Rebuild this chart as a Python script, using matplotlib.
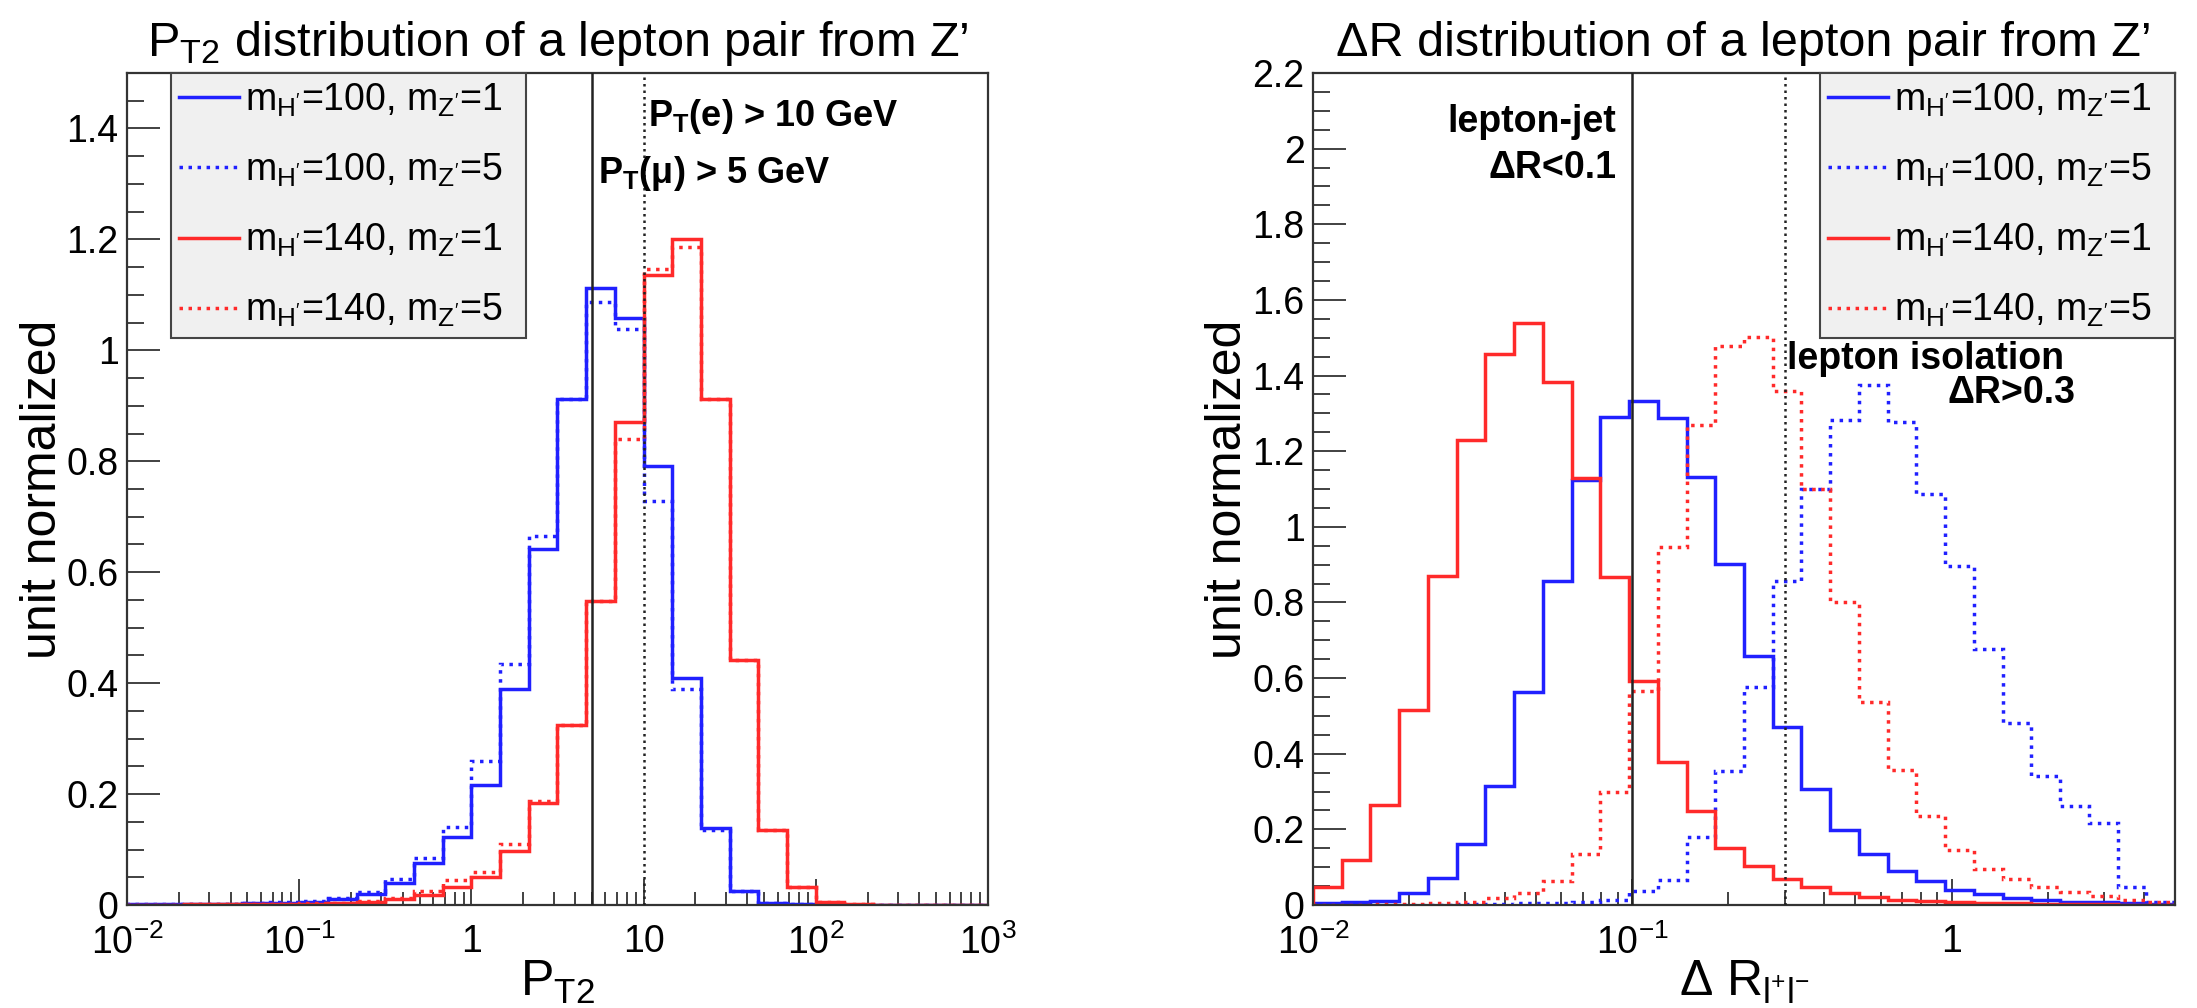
import numpy as np
import matplotlib
matplotlib.use('Agg')
import matplotlib.pyplot as plt
from matplotlib.ticker import MultipleLocator, LogLocator, FuncFormatter, NullFormatter

plt.rcParams['font.family'] = ['Liberation Sans', 'DejaVu Sans']
plt.rcParams['mathtext.fontset'] = 'custom'
plt.rcParams['mathtext.rm'] = 'Liberation Sans'
plt.rcParams['mathtext.it'] = 'Liberation Sans:italic'
plt.rcParams['mathtext.bf'] = 'Liberation Sans:bold'

# binning: 30 log bins in each panel
pt_edges = np.logspace(-2, 3, 31)
dr_edges = np.logspace(-2, 0.7, 31)

# P_T2 histograms (unit normalized), one value per bin
pt_h100_z1 = [0.001, 0.001, 0.002, 0.002, 0.003, 0.004, 0.006, 0.010, 0.020, 0.040,
              0.075, 0.123, 0.217, 0.389, 0.642, 0.912, 1.112, 1.058, 0.792, 0.410,
              0.138, 0.026, 0.004, 0.001, 0.0, 0.0, 0.0, 0.0, 0.0, 0.0]
pt_h100_z5 = [0.001, 0.001, 0.002, 0.002, 0.003, 0.005, 0.007, 0.012, 0.024, 0.046,
              0.085, 0.140, 0.260, 0.434, 0.665, 0.912, 1.088, 1.039, 0.728, 0.389,
              0.135, 0.025, 0.004, 0.001, 0.0, 0.0, 0.0, 0.0, 0.0, 0.0]
pt_h140_z1 = [0.0, 0.0, 0.001, 0.001, 0.001, 0.001, 0.002, 0.003, 0.005, 0.010,
              0.018, 0.033, 0.050, 0.097, 0.183, 0.325, 0.548, 0.870, 1.135, 1.200,
              0.912, 0.441, 0.136, 0.033, 0.005, 0.001, 0.0, 0.0, 0.0, 0.0]
pt_h140_z5 = [0.0, 0.0, 0.001, 0.001, 0.001, 0.002, 0.003, 0.004, 0.007, 0.013,
              0.025, 0.045, 0.059, 0.110, 0.187, 0.325, 0.548, 0.841, 1.146, 1.187,
              0.912, 0.441, 0.136, 0.033, 0.005, 0.001, 0.0, 0.0, 0.0, 0.0]

# Delta R histograms
dr_h100_z1 = [0.005, 0.009, 0.011, 0.033, 0.071, 0.160, 0.315, 0.562, 0.856, 1.124,
              1.290, 1.332, 1.289, 1.132, 0.901, 0.659, 0.470, 0.308, 0.198, 0.136,
              0.089, 0.063, 0.040, 0.028, 0.019, 0.012, 0.009, 0.007, 0.005, 0.003]
dr_h100_z5 = [0.0, 0.0, 0.0, 0.001, 0.001, 0.002, 0.003, 0.004, 0.006, 0.009,
              0.014, 0.038, 0.066, 0.179, 0.353, 0.576, 0.856, 1.099, 1.282, 1.376,
              1.277, 1.087, 0.896, 0.678, 0.480, 0.341, 0.263, 0.216, 0.047, 0.009]
dr_h140_z1 = [0.047, 0.118, 0.265, 0.515, 0.870, 1.230, 1.458, 1.539, 1.383, 1.129,
              0.868, 0.593, 0.378, 0.249, 0.151, 0.102, 0.068, 0.047, 0.033, 0.021,
              0.014, 0.010, 0.008, 0.006, 0.004, 0.003, 0.002, 0.002, 0.001, 0.001]
dr_h140_z5 = [0.001, 0.001, 0.002, 0.003, 0.005, 0.009, 0.019, 0.033, 0.064, 0.136,
              0.299, 0.565, 0.946, 1.268, 1.477, 1.502, 1.360, 1.101, 0.802, 0.538,
              0.356, 0.235, 0.146, 0.094, 0.068, 0.047, 0.035, 0.024, 0.014, 0.009]

labels = [r'm$_{\rm H^{\prime}}$=100, m$_{\rm Z^{\prime}}$=1',
          r'm$_{\rm H^{\prime}}$=100, m$_{\rm Z^{\prime}}$=5',
          r'm$_{\rm H^{\prime}}$=140, m$_{\rm Z^{\prime}}$=1',
          r'm$_{\rm H^{\prime}}$=140, m$_{\rm Z^{\prime}}$=5']
colors = ['#2020ff', '#2020ff', '#ff2a2a', '#ff2a2a']
styles = ['-', (0, (1.0, 1.6)), '-', (0, (1.0, 1.6))]


def log_fmt(v, pos):
    e = int(round(np.log10(v)))
    if e == 0:
        return '1'
    if e == 1:
        return '10'
    return r'$10^{%d}$' % e


def style_axes(ax, ymax):
    ax.set_xscale('log')
    ax.set_ylim(0, ymax)
    ax.yaxis.set_major_locator(MultipleLocator(0.2))
    ax.yaxis.set_minor_locator(MultipleLocator(0.05))
    ax.yaxis.set_major_formatter(FuncFormatter(lambda v, p: '%g' % round(v, 2)))
    ax.xaxis.set_major_locator(LogLocator(base=10))
    ax.xaxis.set_minor_locator(LogLocator(base=10, subs=range(2, 10)))
    ax.xaxis.set_major_formatter(FuncFormatter(log_fmt))
    ax.xaxis.set_minor_formatter(NullFormatter())
    ax.tick_params(which='both', direction='in', top=False, right=False,
                   labelsize=27, color='#333333', width=1.3)
    ax.tick_params(axis='y', which='major', length=24, pad=6)
    ax.tick_params(axis='y', which='minor', length=12)
    ax.tick_params(axis='x', which='major', length=19, pad=14)
    ax.tick_params(axis='x', which='minor', length=9.5)
    for s in ax.spines.values():
        s.set_linewidth(1.6)
        s.set_color('#333333')
    ax.text(-0.098, 0.5, 'unit normalized', rotation=90, ha='center', va='center',
            fontsize=36, transform=ax.transAxes)


def add_legend(ax, anchor_x, loc):
    leg = ax.legend(loc=loc, bbox_to_anchor=(anchor_x, 0.0, 0.412, 1.0), mode='expand',
                    fontsize=27, frameon=True, fancybox=False, framealpha=1,
                    facecolor='#f0f0f0', edgecolor='#444444', borderaxespad=0,
                    handlelength=1.6, labelspacing=0.88, borderpad=0.22,
                    handletextpad=0.15)
    leg.get_frame().set_linewidth(1.5)
    leg.set_zorder(5)
    return leg


fig = plt.figure(figsize=(21.97, 10.08), dpi=100)
ax1 = fig.add_axes([0.0578, 0.1022, 0.3919, 0.8254])
ax2 = fig.add_axes([0.5976, 0.1022, 0.3924, 0.8254])

# left panel: P_T2
for vals, c, ls, lab in zip([pt_h100_z1, pt_h100_z5, pt_h140_z1, pt_h140_z5], colors, styles, labels):
    ax1.stairs(vals, pt_edges, color=c, linestyle=ls, linewidth=2.5, label=lab, zorder=2)
ax1.axvline(5, color='#222222', lw=1.8, zorder=3)
ax1.axvline(10, color='#222222', lw=1.8, ls=(0, (1.0, 1.6)), zorder=3)
ax1.set_xlim(1e-2, 1e3)
style_axes(ax1, 1.5)
ax1.text(0.5, 1.02, r'P$_{\rm T2}$ distribution of a lepton pair from Z’', ha='center',
         va='baseline', fontsize=35, transform=ax1.transAxes)
ax1.set_xlabel(r'P$_{\rm T2}$', fontsize=36, labelpad=-2)
ax1.text(10.6, 1.422, r'P$_{\bf T}$(e) > 10 GeV', fontsize=26, fontweight='bold',
         ha='left', va='center')
ax1.text(5.43, 1.318, r'P$_{\bf T}$(μ) > 5 GeV', fontsize=26, fontweight='bold',
         ha='left', va='center')
add_legend(ax1, 0.051, 'upper left')

# right panel: Delta R
for vals, c, ls, lab in zip([dr_h100_z1, dr_h100_z5, dr_h140_z1, dr_h140_z5], colors, styles, labels):
    ax2.stairs(vals, dr_edges, color=c, linestyle=ls, linewidth=2.5, label=lab, zorder=2)
ax2.axvline(0.1, color='#222222', lw=1.8, zorder=3)
ax2.axvline(0.3, color='#222222', lw=1.8, ls=(0, (1.0, 1.6)), zorder=3)
ax2.set_xlim(1e-2, 10 ** 0.7)
style_axes(ax2, 2.2)
ax2.text(0.5, 1.02, 'ΔR distribution of a lepton pair from Z’', ha='center',
         va='baseline', fontsize=35, transform=ax2.transAxes)
ax2.set_xlabel(r'Δ R$_{\rm l^{+}l^{-}}$', fontsize=36, labelpad=-2)
ax2.text(0.089, 2.07, 'lepton-jet', fontsize=27, fontweight='bold', ha='right', va='center')
ax2.text(0.089, 1.95, 'ΔR<0.1', fontsize=27, fontweight='bold', ha='right', va='center')
ax2.text(0.305, 1.445, 'lepton isolation', fontsize=27, fontweight='bold', ha='left', va='center')
ax2.text(2.45, 1.355, 'ΔR>0.3', fontsize=27, fontweight='bold', ha='right', va='center')
add_legend(ax2, 0.588, 'upper right')

fig.savefig('out.png', dpi=100)
